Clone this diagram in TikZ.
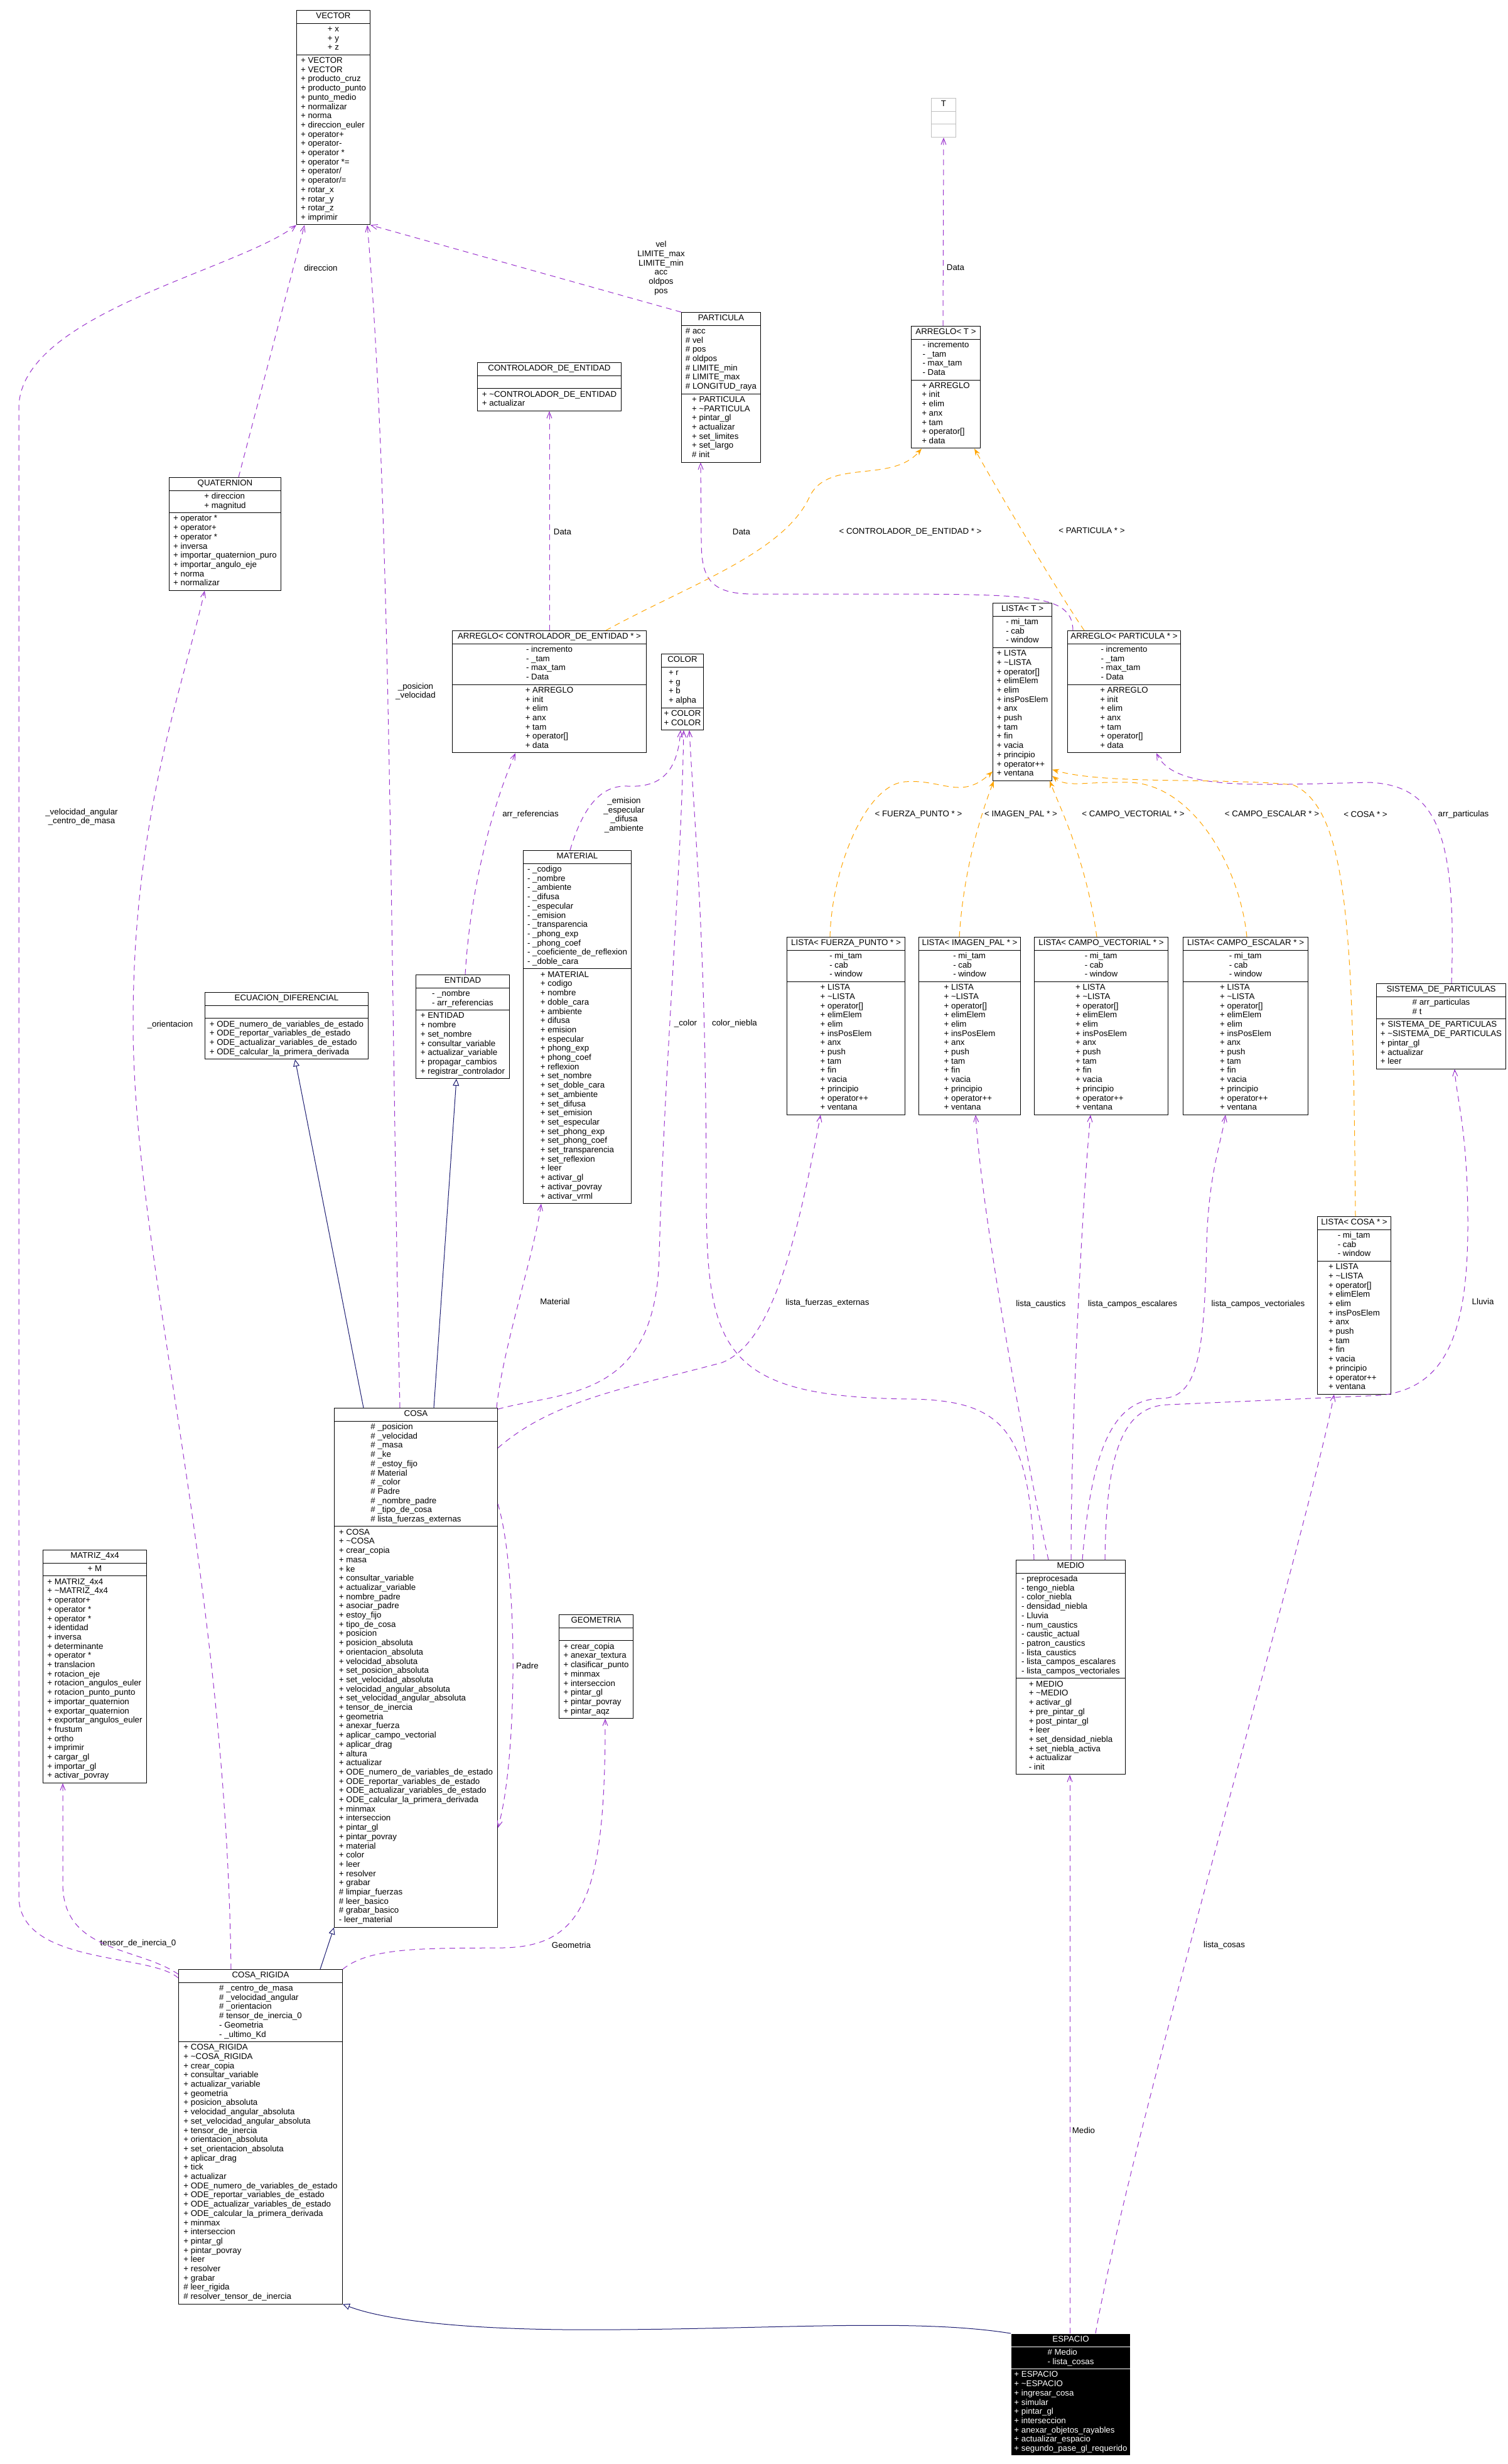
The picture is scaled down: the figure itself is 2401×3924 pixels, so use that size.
\documentclass[tikz,border=0pt]{standalone}
\usepackage{fontspec}
\setmainfont{Liberation Sans}
\usetikzlibrary{shapes.multipart,arrows.meta}

\definecolor{usecolor}{HTML}{9A32CD}
\definecolor{tmplcolor}{HTML}{FFA500}
\definecolor{inhcolor}{HTML}{191970}
\definecolor{extcolor}{HTML}{BFBFBF}

\newcommand{\mlines}[1]{\begin{tabular}{@{}l@{}}#1\end{tabular}}
\newcommand{\listaattrs}{\mlines{- mi\_tam\\- cab\\- window}}
\newcommand{\listaops}{\mlines{+ LISTA\\+ \textasciitilde LISTA\\+ operator[]\\+ elimElem\\+ elim\\+ insPosElem\\+ anx\\+ push\\+ tam\\+ fin\\+ vacia\\+ principio\\+ operator++\\+ ventana}}
\newcommand{\arregloattrs}{\mlines{- incremento\\- \_tam\\- max\_tam\\- Data}}
\newcommand{\arregloops}{\mlines{+ ARREGLO\\+ init\\+ elim\\+ anx\\+ tam\\+ operator[]\\+ data}}

\tikzset{
  classbox/.style={rectangle split, rectangle split parts=3, draw=black, fill=white,
    line width=1pt, anchor=north west, inner xsep=2pt, inner ysep=2.5pt,
    font=\fontsize{13.3pt}{14.7pt}\selectfont},
  edgelabel/.style={font=\fontsize{13.3pt}{14.7pt}\selectfont, inner sep=0pt},
  usage/.style={draw=usecolor, line width=1pt, dash pattern=on 9pt off 7pt,
    -{Straight Barb[length=10pt,width=8pt]}},
  tmpl/.style={draw=tmplcolor, line width=1pt, dash pattern=on 9pt off 7pt,
    -{Stealth[length=11pt,width=8pt]}},
  inherit/.style={draw=inhcolor, line width=1pt,
    -{Triangle[open,length=11pt,width=10pt]}}
}

\begin{document}
\begin{tikzpicture}[x=1pt, y=-1pt]

   \path [use as bounding box, fill=white] (0,0) rectangle (2401,3924);

   % classes, top to bottom
   \node (VECTOR) at (472,16) [classbox, minimum width=117pt] {\strut VECTOR
     \nodepart{two}\mlines{+ x\\+ y\\+ z}
     \nodepart{three}\mlines{+ VECTOR\\+ VECTOR\\+ producto\_cruz\\+ producto\_punto\\+ punto\_medio\\+ normalizar\\+ norma\\+ direccion\_euler\\+ operator+\\+ operator-\\+ operator *\\+ operator *=\\+ operator/\\+ operator/=\\+ rotar\_x\\+ rotar\_y\\+ rotar\_z\\+ imprimir}};

   \node (T) at (1483,156) [classbox, draw=extcolor, minimum width=39pt] {\strut T
     \nodepart{two}\strut
     \nodepart{three}\strut};

   \node (PARTICULA) at (1085,497) [classbox, minimum width=126pt] {\strut PARTICULA
     \nodepart{two}\mlines{\# acc\\\# vel\\\# pos\\\# oldpos\\\# LIMITE\_min\\\# LIMITE\_max\\\# LONGITUD\_raya}
     \nodepart{three}\mlines{+ PARTICULA\\+ \textasciitilde PARTICULA\\+ pintar\_gl\\+ actualizar\\+ set\_limites\\+ set\_largo\\\# init}};

   \node (ARREGLO-T) at (1451,519) [classbox, minimum width=110pt] {\strut ARREGLO< T >
     \nodepart{two}\arregloattrs
     \nodepart{three}\arregloops};

   \node (CONTROLADOR-DE-ENTIDAD) at (760,577) [classbox, minimum width=229pt] {\strut CONTROLADOR\_DE\_ENTIDAD
     \nodepart{two}\strut
     \nodepart{three}\mlines{+ \textasciitilde CONTROLADOR\_DE\_ENTIDAD\\+ actualizar}};

   \node (QUATERNION) at (269,760) [classbox, minimum width=178pt] {\strut QUATERNION
     \nodepart{two}\mlines{+ direccion\\+ magnitud}
     \nodepart{three}\mlines{+ operator *\\+ operator+\\+ operator *\\+ inversa\\+ importar\_quaternion\_puro\\+ importar\_angulo\_eje\\+ norma\\+ normalizar}};

   \node (LISTA-T) at (1581,960) [classbox, minimum width=94pt] {\strut LISTA< T >
     \nodepart{two}\listaattrs
     \nodepart{three}\listaops};

   \node (ARREGLO-CONTROLADOR) at (720,1004) [classbox, minimum width=309pt] {\strut ARREGLO< CONTROLADOR\_DE\_ENTIDAD * >
     \nodepart{two}\arregloattrs
     \nodepart{three}\arregloops};

   \node (ARREGLO-PARTICULA) at (1700,1004) [classbox, minimum width=180pt] {\strut ARREGLO< PARTICULA * >
     \nodepart{two}\arregloattrs
     \nodepart{three}\arregloops};

   \node (COLOR) at (1053,1041) [classbox, minimum width=67pt] {\strut COLOR
     \nodepart{two}\mlines{+ r\\+ g\\+ b\\+ alpha}
     \nodepart{three}\mlines{+ COLOR\\+ COLOR}};

   \node (MATERIAL) at (833,1354) [classbox, minimum width=172pt] {\strut MATERIAL
     \nodepart{two}\mlines{- \_codigo\\- \_nombre\\- \_ambiente\\- \_difusa\\- \_especular\\- \_emision\\- \_transparencia\\- \_phong\_exp\\- \_phong\_coef\\- \_coeficiente\_de\_reflexion\\- \_doble\_cara}
     \nodepart{three}\mlines{+ MATERIAL\\+ codigo\\+ nombre\\+ doble\_cara\\+ ambiente\\+ difusa\\+ emision\\+ especular\\+ phong\_exp\\+ phong\_coef\\+ reflexion\\+ set\_nombre\\+ set\_doble\_cara\\+ set\_ambiente\\+ set\_difusa\\+ set\_emision\\+ set\_especular\\+ set\_phong\_exp\\+ set\_phong\_coef\\+ set\_transparencia\\+ set\_reflexion\\+ leer\\+ activar\_gl\\+ activar\_povray\\+ activar\_vrml}};

   \node (ECUACION-DIFERENCIAL) at (326,1580) [classbox, minimum width=260pt] {\strut ECUACION\_DIFERENCIAL
     \nodepart{two}\strut
     \nodepart{three}\mlines{+ ODE\_numero\_de\_variables\_de\_estado\\+ ODE\_reportar\_variables\_de\_estado\\+ ODE\_actualizar\_variables\_de\_estado\\+ ODE\_calcular\_la\_primera\_derivada}};

   \node (ENTIDAD) at (662,1552) [classbox, minimum width=149pt] {\strut ENTIDAD
     \nodepart{two}\mlines{- \_nombre\\- arr\_referencias}
     \nodepart{three}\mlines{+ ENTIDAD\\+ nombre\\+ set\_nombre\\+ consultar\_variable\\+ actualizar\_variable\\+ propagar\_cambios\\+ registrar\_controlador}};

   \node (LISTA-FUERZA-PUNTO) at (1253,1492) [classbox, minimum width=188pt] {\strut LISTA< FUERZA\_PUNTO * >
     \nodepart{two}\listaattrs
     \nodepart{three}\listaops};

   \node (LISTA-IMAGEN-PAL) at (1463,1492) [classbox, minimum width=162pt] {\strut LISTA< IMAGEN\_PAL * >
     \nodepart{two}\listaattrs
     \nodepart{three}\listaops};

   \node (LISTA-CAMPO-VECTORIAL) at (1647,1492) [classbox, minimum width=213pt] {\strut LISTA< CAMPO\_VECTORIAL * >
     \nodepart{two}\listaattrs
     \nodepart{three}\listaops};

   \node (LISTA-CAMPO-ESCALAR) at (1884,1492) [classbox, minimum width=199pt] {\strut LISTA< CAMPO\_ESCALAR * >
     \nodepart{two}\listaattrs
     \nodepart{three}\listaops};

   \node (SISTEMA-DE-PARTICULAS) at (2192,1566) [classbox, minimum width=206pt] {\strut SISTEMA\_DE\_PARTICULAS
     \nodepart{two}\mlines{\# arr\_particulas\\\# t}
     \nodepart{three}\mlines{+ SISTEMA\_DE\_PARTICULAS\\+ \textasciitilde SISTEMA\_DE\_PARTICULAS\\+ pintar\_gl\\+ actualizar\\+ leer}};

   \node (LISTA-COSA) at (2098,1937) [classbox, minimum width=117pt] {\strut LISTA< COSA * >
     \nodepart{two}\listaattrs
     \nodepart{three}\listaops};

   \node (COSA) at (532,2242) [classbox, minimum width=260pt] {\strut COSA
     \nodepart{two}\mlines{\# \_posicion\\\# \_velocidad\\\# \_masa\\\# \_ke\\\# \_estoy\_fijo\\\# Material\\\# \_color\\\# Padre\\\# \_nombre\_padre\\\# \_tipo\_de\_cosa\\\# lista\_fuerzas\_externas}
     \nodepart{three}\mlines{+ COSA\\+ \textasciitilde COSA\\+ crear\_copia\\+ masa\\+ ke\\+ consultar\_variable\\+ actualizar\_variable\\+ nombre\_padre\\+ asociar\_padre\\+ estoy\_fijo\\+ tipo\_de\_cosa\\+ posicion\\+ posicion\_absoluta\\+ orientacion\_absoluta\\+ velocidad\_absoluta\\+ set\_posicion\_absoluta\\+ set\_velocidad\_absoluta\\+ velocidad\_angular\_absoluta\\+ set\_velocidad\_angular\_absoluta\\+ tensor\_de\_inercia\\+ geometria\\+ anexar\_fuerza\\+ aplicar\_campo\_vectorial\\+ aplicar\_drag\\+ altura\\+ actualizar\\+ ODE\_numero\_de\_variables\_de\_estado\\+ ODE\_reportar\_variables\_de\_estado\\+ ODE\_actualizar\_variables\_de\_estado\\+ ODE\_calcular\_la\_primera\_derivada\\+ minmax\\+ interseccion\\+ pintar\_gl\\+ pintar\_povray\\+ material\\+ color\\+ leer\\+ resolver\\+ grabar\\\# limpiar\_fuerzas\\\# leer\_basico\\\# grabar\_basico\\- leer\_material}};

   \node (MATRIZ-4x4) at (68,2468) [classbox, minimum width=165pt] {\strut MATRIZ\_4x4
     \nodepart{two}\mlines{+ M}
     \nodepart{three}\mlines{+ MATRIZ\_4x4\\+ \textasciitilde MATRIZ\_4x4\\+ operator+\\+ operator *\\+ operator *\\+ identidad\\+ inversa\\+ determinante\\+ operator *\\+ translacion\\+ rotacion\_eje\\+ rotacion\_angulos\_euler\\+ rotacion\_punto\_punto\\+ importar\_quaternion\\+ exportar\_quaternion\\+ exportar\_angulos\_euler\\+ frustum\\+ ortho\\+ imprimir\\+ cargar\_gl\\+ importar\_gl\\+ activar\_povray}};

   \node (GEOMETRIA) at (890,2571) [classbox, minimum width=118pt] {\strut GEOMETRIA
     \nodepart{two}\strut
     \nodepart{three}\mlines{+ crear\_copia\\+ anexar\_textura\\+ clasificar\_punto\\+ minmax\\+ interseccion\\+ pintar\_gl\\+ pintar\_povray\\+ pintar\_aqz}};

   \node (MEDIO) at (1618,2484) [classbox, minimum width=174pt] {\strut MEDIO
     \nodepart{two}\mlines{- preprocesada\\- tengo\_niebla\\- color\_niebla\\- densidad\_niebla\\- Lluvia\\- num\_caustics\\- caustic\_actual\\- patron\_caustics\\- lista\_caustics\\- lista\_campos\_escalares\\- lista\_campos\_vectoriales}
     \nodepart{three}\mlines{+ MEDIO\\+ \textasciitilde MEDIO\\+ activar\_gl\\+ pre\_pintar\_gl\\+ post\_pintar\_gl\\+ leer\\+ set\_densidad\_niebla\\+ set\_niebla\_activa\\+ actualizar\\- init}};

   \node (COSA-RIGIDA) at (284,3136) [classbox, minimum width=261pt] {\strut COSA\_RIGIDA
     \nodepart{two}\mlines{\# \_centro\_de\_masa\\\# \_velocidad\_angular\\\# \_orientacion\\\# tensor\_de\_inercia\_0\\- Geometria\\- \_ultimo\_Kd}
     \nodepart{three}\mlines{+ COSA\_RIGIDA\\+ \textasciitilde COSA\_RIGIDA\\+ crear\_copia\\+ consultar\_variable\\+ actualizar\_variable\\+ geometria\\+ posicion\_absoluta\\+ velocidad\_angular\_absoluta\\+ set\_velocidad\_angular\_absoluta\\+ tensor\_de\_inercia\\+ orientacion\_absoluta\\+ set\_orientacion\_absoluta\\+ aplicar\_drag\\+ tick\\+ actualizar\\+ ODE\_numero\_de\_variables\_de\_estado\\+ ODE\_reportar\_variables\_de\_estado\\+ ODE\_actualizar\_variables\_de\_estado\\+ ODE\_calcular\_la\_primera\_derivada\\+ minmax\\+ interseccion\\+ pintar\_gl\\+ pintar\_povray\\+ leer\\+ resolver\\+ grabar\\\# leer\_rigida\\\# resolver\_tensor\_de\_inercia}};

   \node (ESPACIO) at (1610,3716) [classbox, fill=black, draw=white, text=white, minimum width=190pt] {\strut ESPACIO
     \nodepart{two}\mlines{\# Medio\\- lista\_cosas}
     \nodepart{three}\mlines{+ ESPACIO\\+ \textasciitilde ESPACIO\\+ ingresar\_cosa\\+ simular\\+ pintar\_gl\\+ interseccion\\+ anexar\_objetos\_rayables\\+ actualizar\_espacio\\+ segundo\_pase\_gl\_requerido}};

   % edge labels
   \node (direccion) at (511,427) [edgelabel] {direccion};
   \node (vel-pos) at (1053,427) [edgelabel, align=center] {vel\\LIMITE\_max\\LIMITE\_min\\acc\\oldpos\\pos};
   \node (Data-T) at (1522,426) [edgelabel] {Data};
   \node (Data-CONTROLADOR) at (896,847) [edgelabel] {Data};
   \node (Data-PARTICULA) at (1181,847) [edgelabel] {Data};
   \node (arg-CONTROLADOR) at (1450,847) [edgelabel] {< CONTROLADOR\_DE\_ENTIDAD * >};
   \node (arg-PARTICULA) at (1739,845) [edgelabel] {< PARTICULA * >};
   \node (posicion-velocidad) at (662,1101) [edgelabel, align=center] {\_posicion\\\_velocidad};
   \node (velocidad-centro) at (130,1301) [edgelabel, align=center] {\_velocidad\_angular\\\_centro\_de\_masa};
   \node (arr-referencias) at (845,1297) [edgelabel] {arr\_referencias};
   \node (emision-ambiente) at (994,1298) [edgelabel, align=center] {\_emision\\\_especular\\\_difusa\\\_ambiente};
   \node (arg-FUERZA-PUNTO) at (1463,1297) [edgelabel] {< FUERZA\_PUNTO * >};
   \node (arg-IMAGEN-PAL) at (1626,1297) [edgelabel] {< IMAGEN\_PAL * >};
   \node (arg-CAMPO-VECTORIAL) at (1805,1297) [edgelabel] {< CAMPO\_VECTORIAL * >};
   \node (arg-CAMPO-ESCALAR) at (2026,1297) [edgelabel] {< CAMPO\_ESCALAR * >};
   \node (arg-COSA) at (2175,1297) [edgelabel] {< COSA * >};
   \node (arr-particulas) at (2331,1297) [edgelabel] {arr\_particulas};
   \node (orientacion) at (271,1632) [edgelabel] {\_orientacion};
   \node (color-COSA) at (1092,1630) [edgelabel] {\_color};
   \node (color-niebla) at (1170,1630) [edgelabel] {color\_niebla};
   \node (Material-COSA) at (884,2073) [edgelabel] {Material};
   \node (lista-fuerzas-externas) at (1318,2075) [edgelabel] {lista\_fuerzas\_externas};
   \node (lista-caustics) at (1658,2077) [edgelabel] {lista\_caustics};
   \node (lista-campos-escalares) at (1804,2077) [edgelabel] {lista\_campos\_escalares};
   \node (lista-campos-vectoriales) at (2004,2077) [edgelabel] {lista\_campos\_vectoriales};
   \node (Lluvia) at (2362,2073) [edgelabel] {Lluvia};
   \node (Padre) at (822,2653) [edgelabel, anchor=west] {Padre};
   \node (tensor-de-inercia-0) at (220,3095) [edgelabel] {tensor\_de\_inercia\_0};
   \node (Geometria) at (910,3098) [edgelabel] {Geometria};
   \node (lista-cosas) at (1950,3098) [edgelabel] {lista\_cosas};
   \node (Medio) at (1726,3393) [edgelabel] {Medio};

   % usage
   \draw [usage] ([xshift=111pt]QUATERNION.north west) -- ([xshift=13pt]VECTOR.south west);
   \draw [usage] (PARTICULA.north west) -- (VECTOR.south east);
   \draw [usage] ([xshift=105pt]COSA.north west) .. controls (622,1600) and (624,800) .. ([xshift=113pt]VECTOR.south west);
   \draw [usage] ([yshift=-14pt]COSA-RIGIDA.north west) .. controls (240,3110) and (30,3130) .. (30,3020) -- (30,650) .. controls (30,500) and (380,430) .. (VECTOR.south west);
   \draw [usage] ([yshift=-8pt]COSA-RIGIDA.north west) .. controls (220,3100) and (100,3110) .. (100,3000) -- ([xshift=32pt]MATRIZ-4x4.south west);
   \draw [usage] ([xshift=84pt]COSA-RIGIDA.north west) .. controls (360,2500) and (212,2000) .. (212,1630) .. controls (212,1300) and (290,1100) .. ([xshift=57pt]QUATERNION.south west);
   \draw [usage] (COSA-RIGIDA.north east) .. controls (590,3100) and (680,3103) .. (800,3102) .. controls (930,3100) and (964,3020) .. ([xshift=74pt]GEOMETRIA.south west);
   \draw [usage] ([yshift=-153pt]COSA.north east) .. controls (825,2500) and (825,2800) .. ([yshift=-669pt]COSA.north east);
   \draw [usage] ([xshift=79pt]ENTIDAD.north west) .. controls (750,1400) and (790,1270) .. ([xshift=101pt]ARREGLO-CONTROLADOR.south west);
   \draw [usage] ([xshift=155pt]ARREGLO-CONTROLADOR.north west) -- ([xshift=115pt]CONTROLADOR-DE-ENTIDAD.south west);
   \draw [usage] ([xshift=9pt]ARREGLO-PARTICULA.north west) .. controls (1708,950) and (1650,947) .. (1450,946) -- (1200,946) .. controls (1130,946) and (1117,920) .. (1117,860) -- ([xshift=31pt]PARTICULA.south west);
   \draw [usage] ([xshift=51pt]ARREGLO-T.north west) -- (T.south);
   \draw [usage] ([xshift=75pt]MATERIAL.north west) .. controls (930,1280) and (960,1250) .. (1000,1252) .. controls (1060,1255) and (1080,1220) .. ([xshift=31pt]COLOR.south west);
   \draw [usage] ([yshift=-2pt]COSA.north east) .. controls (900,2215) and (1045,2230) .. (1050,2000) .. controls (1058,1700) and (1085,1400) .. ([xshift=36pt]COLOR.south west);
   \draw [usage] ([xshift=29pt]MEDIO.north west) .. controls (1640,2280) and (1600,2230) .. (1450,2228) .. controls (1150,2225) and (1125,2150) .. (1125,1900) .. controls (1125,1500) and (1105,1300) .. ([xshift=45pt]COLOR.south west);
   \draw [usage] ([xshift=-2pt]COSA.north east) .. controls (800,2150) and (850,2000) .. ([xshift=29pt]MATERIAL.south west);
   \draw [usage] ([yshift=-64pt]COSA.north east) .. controls (880,2230) and (1000,2210) .. (1150,2170) .. controls (1225,2140) and (1265,2000) .. ([xshift=54pt]LISTA-FUERZA-PUNTO.south west);
   \draw [usage] ([xshift=52pt]MEDIO.north west) .. controls (1640,2350) and (1565,1950) .. ([xshift=91pt]LISTA-IMAGEN-PAL.south west);
   \draw [usage] ([xshift=88pt]MEDIO.north west) .. controls (1706,2250) and (1725,1900) .. ([xshift=90pt]LISTA-CAMPO-VECTORIAL.south west);
   \draw [usage] ([xshift=106pt]MEDIO.north west) .. controls (1740,2290) and (1780,2228) .. (1850,2227) .. controls (1910,2226) and (1918,2150) .. (1922,1980) .. controls (1925,1870) and (1945,1820) .. ([xshift=68pt]LISTA-CAMPO-ESCALAR.south west);
   \draw [usage] ([xshift=142pt]MEDIO.north west) .. controls (1762,2320) and (1785,2240) .. (1860,2237) -- (2200,2222) .. controls (2300,2210) and (2338,2130) .. (2338,1950) .. controls (2338,1800) and (2320,1750) .. ([xshift=125pt]SISTEMA-DE-PARTICULAS.south west);
   \draw [usage] ([xshift=120pt]SISTEMA-DE-PARTICULAS.north west) .. controls (2320,1330) and (2290,1250) .. (2180,1246) .. controls (2000,1250) and (1870,1260) .. ([xshift=142pt]ARREGLO-PARTICULA.south west);
   \draw [usage] ([xshift=94pt]ESPACIO.north west) -- ([xshift=86pt]MEDIO.south west);
   \draw [usage] ([xshift=135pt]ESPACIO.north west) .. controls (1800,3400) and (2080,2450) .. ([xshift=27pt]LISTA-COSA.south west);

   % templates
   \draw [tmpl] ([xshift=245pt]ARREGLO-CONTROLADOR.north west) .. controls (1100,930) and (1250,880) .. (1290,790) .. controls (1320,730) and (1420,770) .. ([xshift=17pt]ARREGLO-T.south west);
   \draw [tmpl] ([xshift=27pt]ARREGLO-PARTICULA.north west) .. controls (1690,950) and (1600,800) .. ([xshift=101pt]ARREGLO-T.south west);
   \draw [tmpl] ([xshift=69pt]LISTA-FUERZA-PUNTO.north west) .. controls (1325,1380) and (1380,1250) .. (1441,1245) .. controls (1500,1240) and (1530,1275) .. ([yshift=15pt]LISTA-T.south west);
   \draw [tmpl] ([xshift=65pt]LISTA-IMAGEN-PAL.north west) .. controls (1535,1380) and (1565,1290) .. ([xshift=2pt]LISTA-T.south west);
   \draw [tmpl] ([xshift=100pt]LISTA-CAMPO-VECTORIAL.north west) .. controls (1730,1370) and (1690,1290) .. ([xshift=-4pt]LISTA-T.south east);
   \draw [tmpl] ([xshift=102pt]LISTA-CAMPO-ESCALAR.north west) .. controls (1975,1380) and (1900,1250) .. (1800,1246) .. controls (1730,1244) and (1700,1255) .. ([yshift=8pt]LISTA-T.south east);
   \draw [tmpl] ([xshift=61pt]LISTA-COSA.north west) .. controls (2155,1500) and (2150,1290) .. (2060,1250) .. controls (1950,1238) and (1760,1250) .. ([yshift=18pt]LISTA-T.south east);

   % inheritance
   \draw [inherit] ([xshift=47pt]COSA.north west) -- ([xshift=144pt]ECUACION-DIFERENCIAL.south west);
   \draw [inherit] ([xshift=159pt]COSA.north west) -- ([xshift=65pt]ENTIDAD.south west);
   \draw [inherit] ([xshift=226pt]COSA-RIGIDA.north west) -- (COSA.south west);
   \draw [inherit] (ESPACIO.north west) .. controls (1450,3690) and (1200,3712) .. (900,3710) .. controls (700,3708) and (600,3690) .. (COSA-RIGIDA.south east);

\end{tikzpicture}
\end{document}
